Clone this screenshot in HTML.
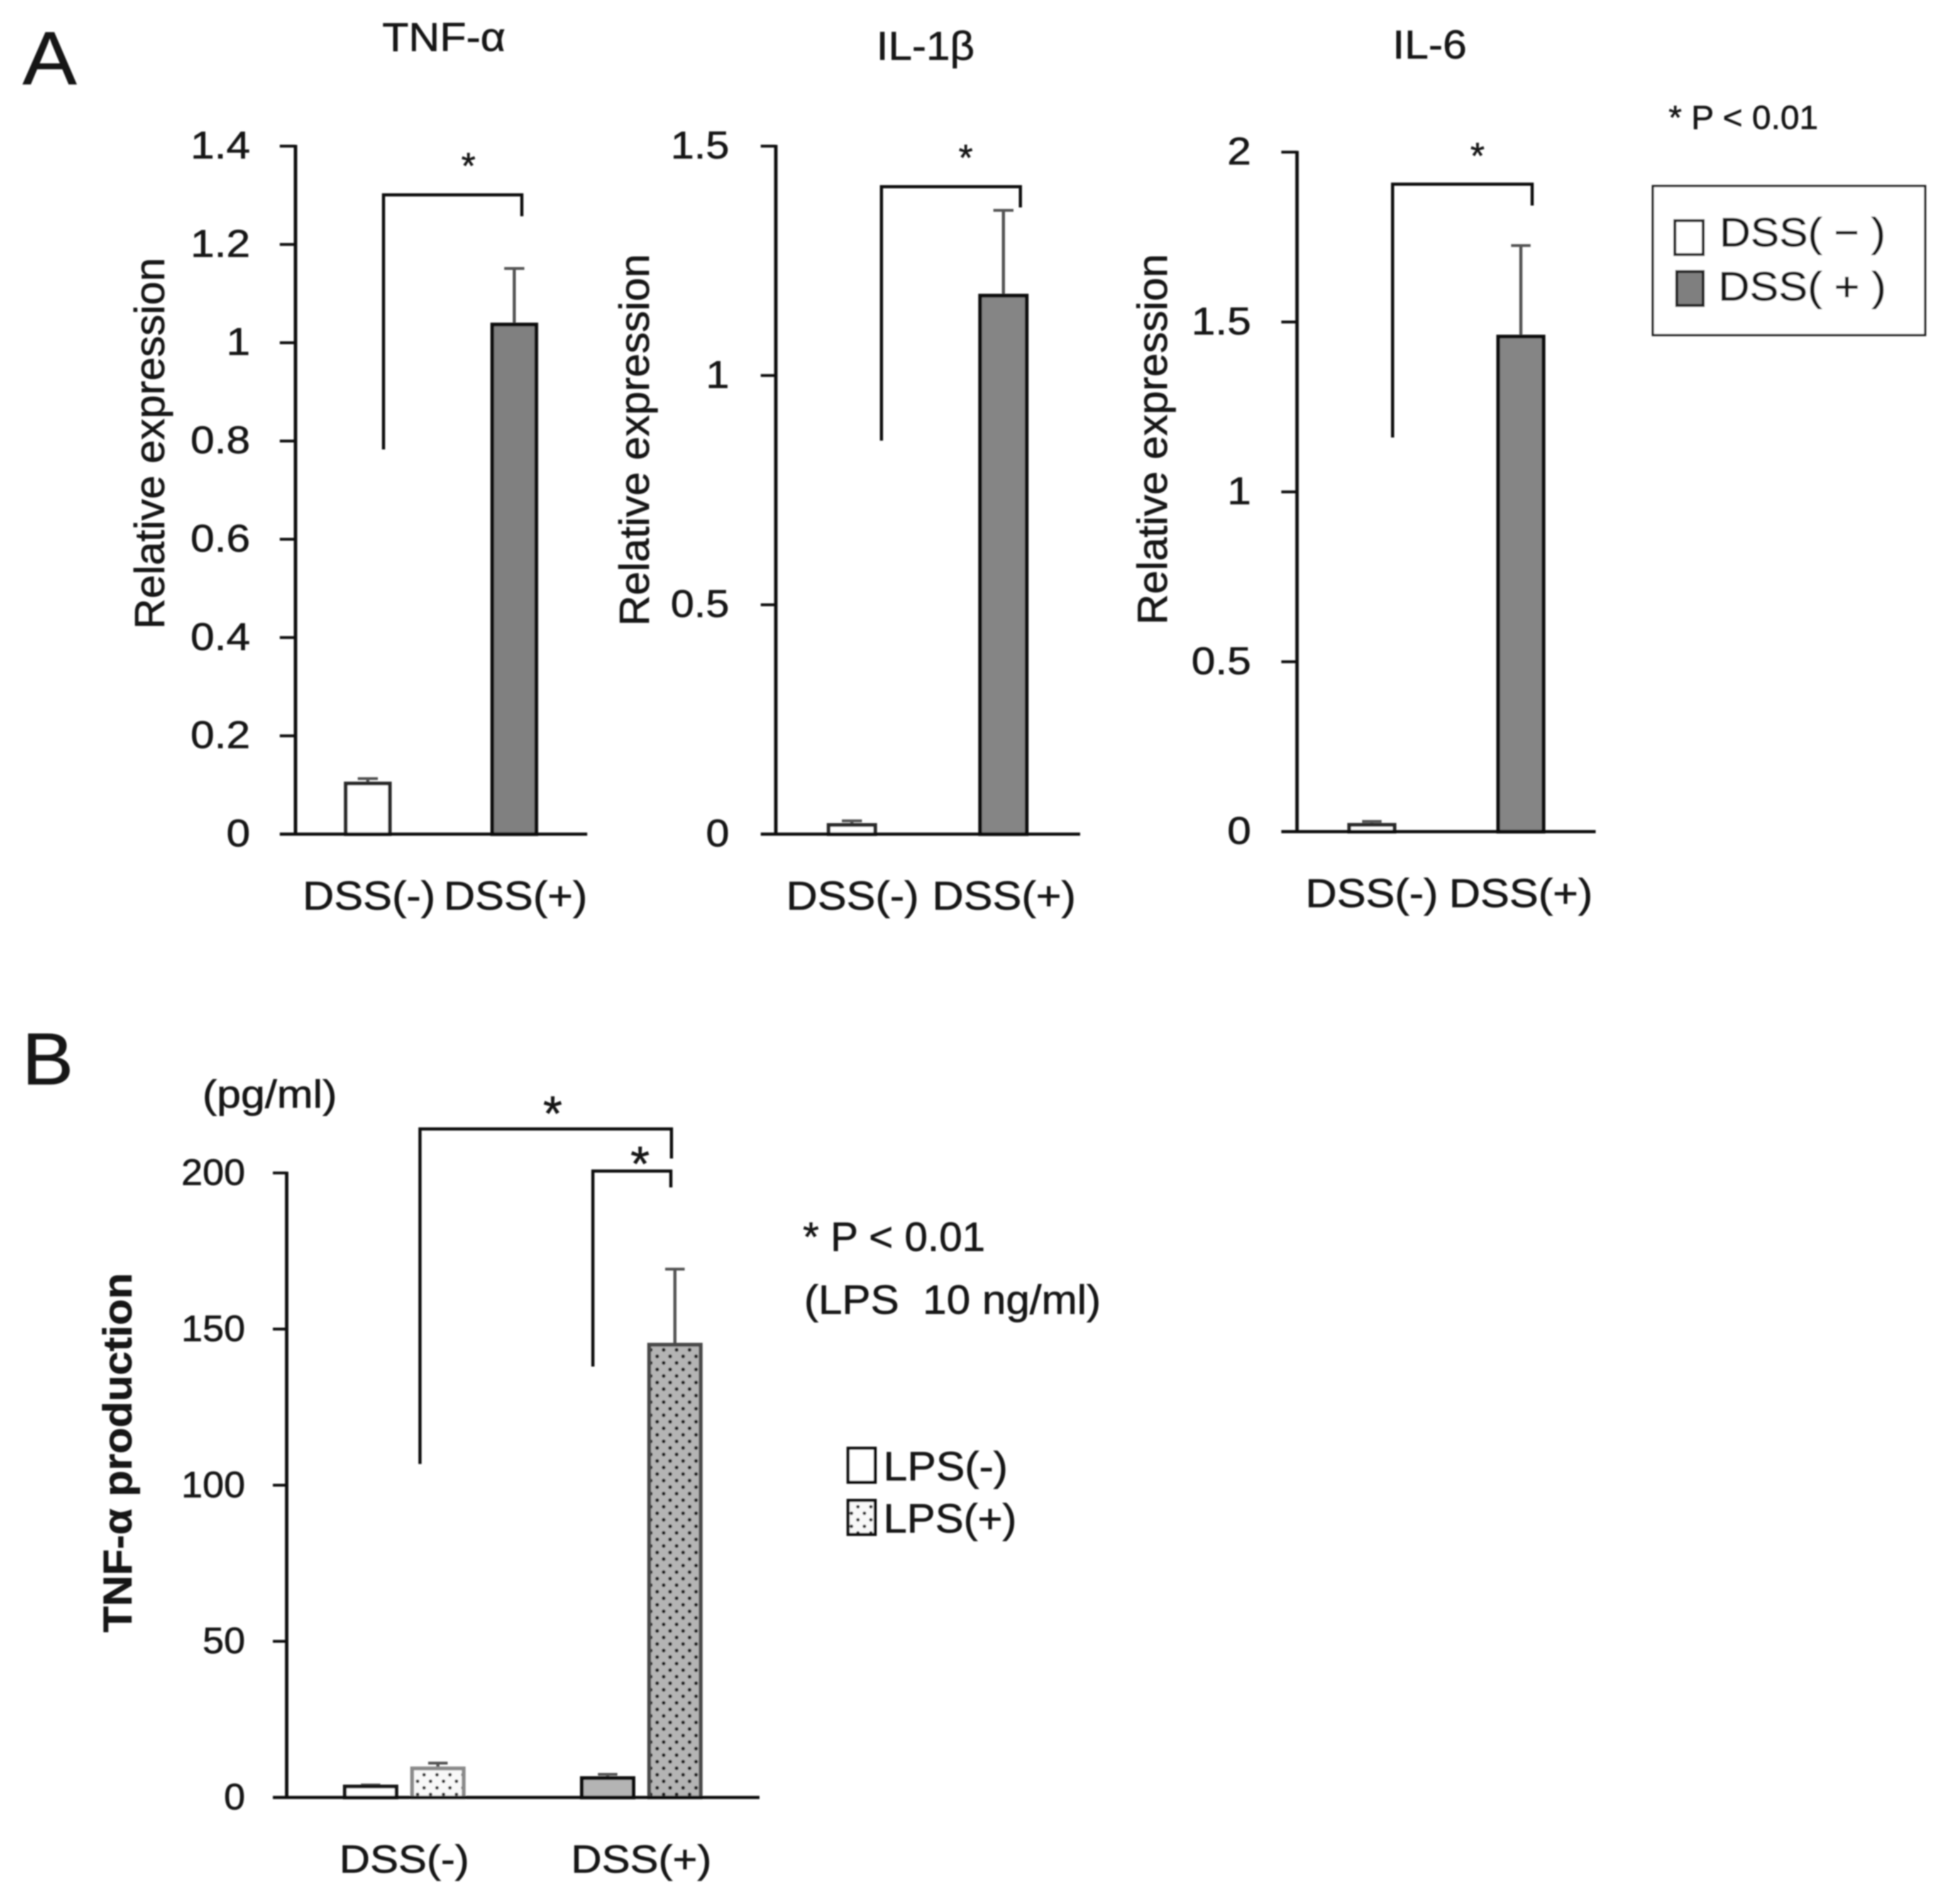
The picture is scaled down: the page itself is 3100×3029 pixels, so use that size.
<!DOCTYPE html>
<html lang="en">
<head>
<meta charset="utf-8">
<title>DSS cytokine expression charts</title>
<style>
html,body{margin:0;padding:0;background:#fff;}
svg{display:block;}
text{font-family:"Liberation Sans",sans-serif;fill:#161616;stroke:#161616;stroke-width:0.7px;}
</style>
</head>
<body>
<svg id="figure" xmlns="http://www.w3.org/2000/svg" width="3100" height="3029" viewBox="0 0 3100 3029">
  <defs>
    <filter id="soft" x="0" y="0" width="100%" height="100%" filterUnits="userSpaceOnUse" primitiveUnits="userSpaceOnUse"><feGaussianBlur stdDeviation="1"/></filter>
    <pattern id="dots-grey" width="20.6" height="20.8" patternUnits="userSpaceOnUse">
      <rect width="20.6" height="20.8" fill="#b4b4b4"/>
      <circle cx="5" cy="5" r="3" fill="#1a1a1a"/>
      <circle cx="15.3" cy="15.4" r="3" fill="#1a1a1a"/>
    </pattern>
    <pattern id="dots-white" width="20.6" height="20.8" patternUnits="userSpaceOnUse">
      <rect width="20.6" height="20.8" fill="#f8f8f8"/>
      <circle cx="5" cy="5" r="2.8" fill="#2a2a2a"/>
      <circle cx="15.3" cy="15.4" r="2.8" fill="#2a2a2a"/>
    </pattern>
  </defs>
  <rect width="3100" height="3029" fill="#fff"/>
  <g id="root" filter="url(#soft)">

    <!-- Panel letters -->
    <text x="36" y="134" font-size="120" textLength="86" lengthAdjust="spacingAndGlyphs">A</text>
    <text x="35" y="1725" font-size="117" textLength="82" lengthAdjust="spacingAndGlyphs">B</text>

    <!-- Chart titles -->
    <text x="608" y="81" font-size="64" textLength="196" lengthAdjust="spacingAndGlyphs">TNF-α</text>
    <text x="1394" y="95" font-size="64" textLength="156" lengthAdjust="spacingAndGlyphs">IL-1β</text>
    <text x="2215" y="93" font-size="64" textLength="118" lengthAdjust="spacingAndGlyphs">IL-6</text>

    <!-- Y axis titles -->
    <text transform="translate(261,1001) rotate(-90)" font-size="67" textLength="591" lengthAdjust="spacingAndGlyphs">Relative expression</text>
    <text transform="translate(1032,996) rotate(-90)" font-size="67" textLength="592" lengthAdjust="spacingAndGlyphs">Relative expression</text>
    <text transform="translate(1856,994) rotate(-90)" font-size="67" textLength="590" lengthAdjust="spacingAndGlyphs">Relative expression</text>
    <text transform="translate(209,2597) rotate(-90)" font-size="64" font-weight="bold" textLength="572" lengthAdjust="spacingAndGlyphs">TNF-α production</text>
    <text x="322" y="1762" font-size="62" textLength="214" lengthAdjust="spacingAndGlyphs">(pg/ml)</text>

    <!-- Significance brackets -->
    <g fill="none" stroke="#0d0d0d" stroke-width="5">
      <path d="M610 715V310H830V344"/>
      <path d="M1402 701V297H1623V330"/>
      <path d="M2215 696V293H2437V327"/>
      <path d="M668 2329V1796H1068V1843"/>
      <path d="M943 2174V1863H1067V1889"/>
    </g>
    <text x="745" y="284" font-size="58" text-anchor="middle">*</text>
    <text x="1536" y="271" font-size="58" text-anchor="middle">*</text>
    <text x="2350" y="268" font-size="58" text-anchor="middle">*</text>
    <text x="879" y="1798" font-size="78" text-anchor="middle">*</text>
    <text x="1018" y="1878" font-size="78" text-anchor="middle">*</text>

    <!-- Notes -->
    <text x="2654" y="205" font-size="53" textLength="238" lengthAdjust="spacingAndGlyphs">* P &lt; 0.01</text>
    <text x="1277" y="1990" font-size="65" textLength="290" lengthAdjust="spacingAndGlyphs">* P &lt; 0.01</text>
    <text x="1279" y="2090" font-size="65" textLength="472" lengthAdjust="spacingAndGlyphs" xml:space="preserve">(LPS  10 ng/ml)</text>

    <!-- Panel A legend -->
    <g>
      <rect x="2629" y="296" width="433" height="237" fill="#fff" stroke="#1c1c1c" stroke-width="3.5"/>
      <rect x="2664" y="351" width="45" height="54" fill="#fff" stroke="#1a1a1a" stroke-width="4.5"/>
      <rect x="2667" y="432" width="42" height="54" fill="#7f7f7f" stroke="#1a1a1a" stroke-width="4.5"/>
      <text x="2735" y="392" font-size="65" textLength="264" lengthAdjust="spacingAndGlyphs" xml:space="preserve">DSS( − )</text>
      <text x="2733" y="478" font-size="65" textLength="267" lengthAdjust="spacingAndGlyphs" xml:space="preserve">DSS( + )</text>
    </g>

    <!-- Panel B legend -->
    <g>
      <rect x="1349" y="2304" width="43" height="54" fill="#fff" stroke="#111" stroke-width="5"/>
      <rect x="1349" y="2387" width="43" height="54" fill="url(#dots-white)" stroke="#111" stroke-width="5"/>
      <text x="1405" y="2355" font-size="65" textLength="198" lengthAdjust="spacingAndGlyphs">LPS(-)</text>
      <text x="1405" y="2438" font-size="65" textLength="212" lengthAdjust="spacingAndGlyphs">LPS(+)</text>
    </g>

    <g id="charts"></g>
  </g>
</svg>

<script>
// ----- Chart data -----
const categories = ['DSS(-)', 'DSS(+)'];

const tnfValues = [0.103, 1.037];
const tnfErrors = [0.01, 0.114];
const tnfTicks = [0, 0.2, 0.4, 0.6, 0.8, 1, 1.2, 1.4];
const tnfMax = 1.4;

const il1Values = [0.02, 1.174];
const il1Errors = [0.009, 0.186];
const il1Ticks = [0, 0.5, 1, 1.5];
const il1Max = 1.5;

const il6Values = [0.02, 1.457];
const il6Errors = [0.01, 0.268];
const il6Ticks = [0, 0.5, 1, 1.5, 2];
const il6Max = 2;

const productionValues = [3.5, 9.3, 6.2, 145];
const productionErrors = [0.5, 1.7, 1.2, 24.2];
const productionTicks = [0, 50, 100, 150, 200];
const productionMax = 200;

// ----- Chart layouts -----
const SVG_NS = 'http://www.w3.org/2000/svg';
const chartsRoot = document.getElementById('charts');

const layouts = [
  { id: 'tnf', values: tnfValues, errors: tnfErrors, ticks: tnfTicks, max: tnfMax,
    axisX: 470, tickLeft: 445, xEnd: 934, yTop: 232.5, yBase: 1327,
    first: 585, step: 233, barW: 76, capW: 32,
    fills: ['#fff', '#808080'], strokes: ['#2c2c2c', '#111'],
    tickRight: 398, tickSize: 61, tickScale: 1.12, tickDy: 19.5,
    labelY: 1447, labelSize: 64, labelScale: 1.08, labelOffset: 2 },
  { id: 'il1', values: il1Values, errors: il1Errors, ticks: il1Ticks, max: il1Max,
    axisX: 1234, tickLeft: 1210, xEnd: 1718, yTop: 232.5, yBase: 1327,
    first: 1355, step: 241, barW: 80, capW: 32,
    fills: ['#fff', '#858585'], strokes: ['#2c2c2c', '#111'],
    tickRight: 1160, tickSize: 61, tickScale: 1.1, tickDy: 19.5,
    labelY: 1447, labelSize: 64, labelScale: 1.08, labelOffset: 1 },
  { id: 'il6', values: il6Values, errors: il6Errors, ticks: il6Ticks, max: il6Max,
    axisX: 2063, tickLeft: 2038, xEnd: 2538, yTop: 242, yBase: 1323,
    first: 2182, step: 237, barW: 78, capW: 31,
    fills: ['#fff', '#858585'], strokes: ['#2c2c2c', '#111'],
    tickRight: 1990, tickSize: 61, tickScale: 1.12, tickDy: 19.5,
    labelY: 1443, labelSize: 64, labelScale: 1.08, labelOffset: 0 }
];

const productionLayout = {
  id: 'production', values: productionValues, errors: productionErrors,
  ticks: productionTicks, max: productionMax,
  axisX: 456, tickLeft: 434, xEnd: 1208, yTop: 1866, yBase: 2859.5,
  groupStart: 643, groupStep: 377, barOffset: 53.5, barW: 88, capW: 31,
  fills: ['#fff', 'url(#dots-white)', '#b4b4b4', 'url(#dots-grey)'],
  strokes: ['#161616', '#8a8a8a', '#0f0f0f', '#484848'],
  tickRight: 390, tickSize: 58, tickScale: 1.05, tickDy: 19,
  labelY: 2979, labelSize: 62, labelScale: 1.09, labelOffset: 0
};

// ----- Axis functions -----
function yScale(layout, value) {
  return layout.yBase - (value / layout.max) * (layout.yBase - layout.yTop);
}
function xSimple(layout, index) {
  return layout.first + index * layout.step;
}
function groupCenter(layout, groupIndex) {
  return layout.groupStart + groupIndex * layout.groupStep;
}
function xGrouped(layout, index) {
  const groupIndex = Math.floor(index / 2);
  const side = index % 2 === 0 ? -1 : 1;
  return groupCenter(layout, groupIndex) + side * layout.barOffset;
}

// ----- Drawing helpers -----
function makeLine(x1, y1, x2, y2, stroke, width, name) {
  const el = document.createElementNS(SVG_NS, 'line');
  el.setAttribute('x1', x1);
  el.setAttribute('y1', y1);
  el.setAttribute('x2', x2);
  el.setAttribute('y2', y2);
  el.setAttribute('stroke', stroke);
  el.setAttribute('stroke-width', width);
  
  
  return el;
}
function makeLabel(str, x, y, size, scaleX, anchor, name) {
  const el = document.createElementNS(SVG_NS, 'text');
  el.setAttribute('transform', 'translate(' + x + ',' + y + ') scale(' + scaleX + ',1)');
  el.setAttribute('font-size', size);
  el.setAttribute('text-anchor', anchor);
  
  
  el.textContent = str;
  return el;
}

function drawChart(layout, xFor) {
  const group = document.createElementNS(SVG_NS, 'g');
  
  
  chartsRoot.appendChild(group);

  // Error bars and bars
  layout.values.forEach(function (value, i) {
    const cx = xFor(layout, i);
    const top = yScale(layout, value);
    const errTop = yScale(layout, value + layout.errors[i]);
    group.appendChild(makeLine(cx, top, cx, errTop, '#555', 5, layout.id + '-error-bar-' + i));
    group.appendChild(makeLine(cx - layout.capW / 2, errTop, cx + layout.capW / 2, errTop, '#555', 4.5, layout.id + '-error-cap-' + i));

    const bar = document.createElementNS(SVG_NS, 'rect');
    bar.setAttribute('x', cx - layout.barW / 2 + 3);
    bar.setAttribute('y', top);
    bar.setAttribute('width', layout.barW - 6);
    bar.setAttribute('height', layout.yBase - top);
    bar.setAttribute('fill', layout.fills[i]);
    bar.setAttribute('stroke', layout.strokes[i]);
    bar.setAttribute('stroke-width', 6);
    
    
    group.appendChild(bar);
  });

  // Axes
  group.appendChild(makeLine(layout.axisX, layout.yTop - 2, layout.axisX, layout.yBase + 2, '#111', 5.5, layout.id + '-y-axis'));
  group.appendChild(makeLine(layout.tickLeft, layout.yBase, layout.xEnd, layout.yBase, '#111', 5, layout.id + '-x-axis'));

  // Ticks and tick labels
  layout.ticks.forEach(function (tick) {
    const ty = yScale(layout, tick);
    if (tick !== 0) {
      group.appendChild(makeLine(layout.tickLeft, ty, layout.axisX, ty, '#111', 4.5, layout.id + '-y-tick-' + tick));
    }
    group.appendChild(makeLabel(String(tick), layout.tickRight, ty + layout.tickDy, layout.tickSize, layout.tickScale, 'end', layout.id + '-y-tick-label-' + tick));
  });
}

layouts.forEach(function (layout) {
  drawChart(layout, xSimple);
  const group = chartsRoot.lastChild;
  categories.forEach(function (category, i) {
    const cx = xSimple(layout, i) + layout.labelOffset;
    group.appendChild(makeLabel(category, cx, layout.labelY, layout.labelSize, layout.labelScale, 'middle', layout.id + '-category-label-' + i));
  });
});

drawChart(productionLayout, xGrouped);
categories.forEach(function (category, i) {
  const cx = groupCenter(productionLayout, i) + productionLayout.labelOffset;
  chartsRoot.lastChild.appendChild(makeLabel(category, cx, productionLayout.labelY, productionLayout.labelSize, productionLayout.labelScale, 'middle', 'production-category-label-' + i));
});
</script>
</body>
</html>
